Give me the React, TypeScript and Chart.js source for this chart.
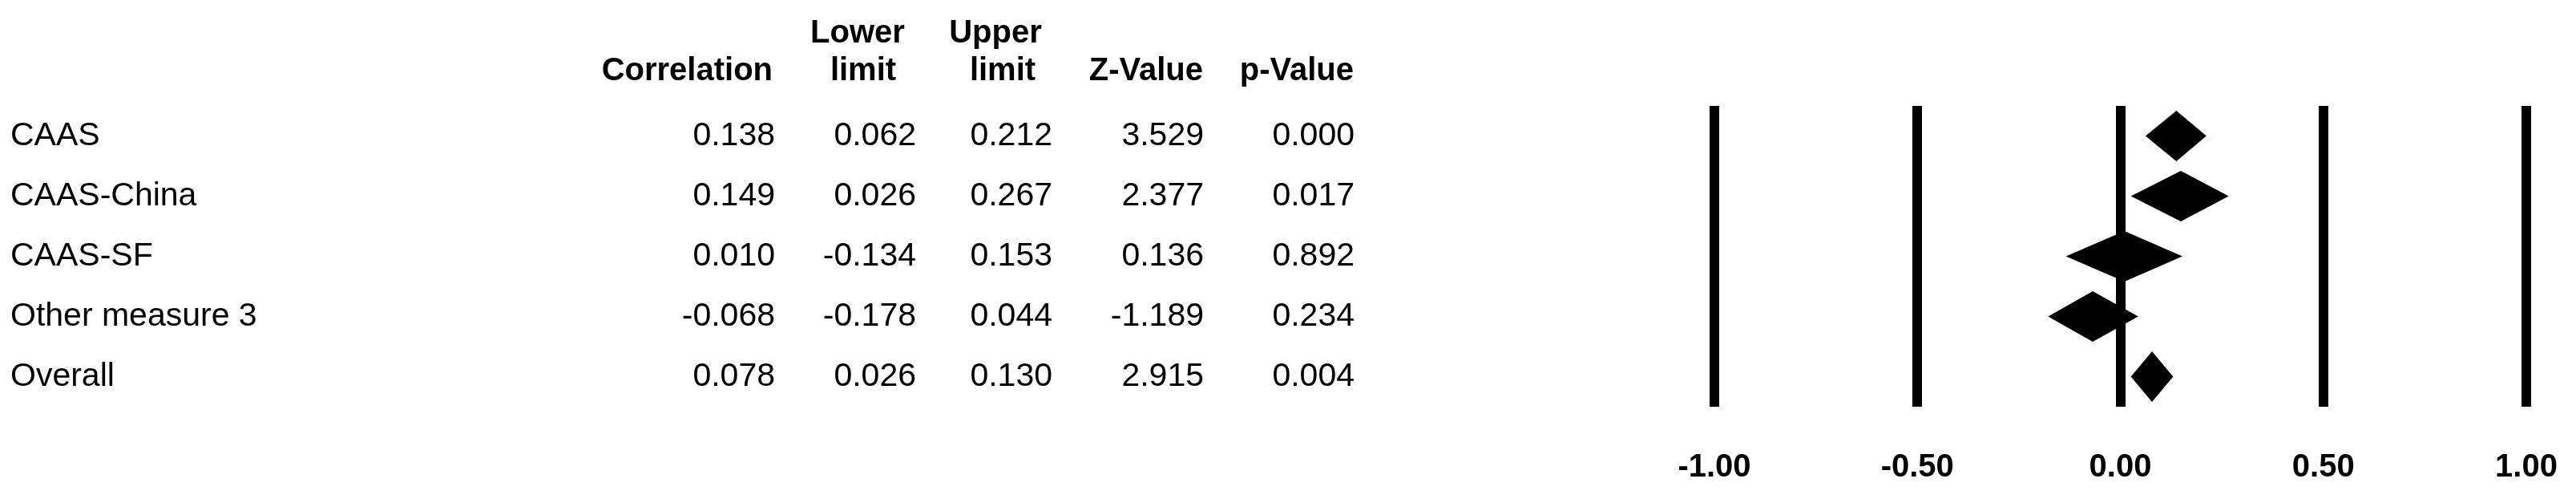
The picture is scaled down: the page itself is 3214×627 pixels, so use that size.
import React, { useEffect, useRef } from "react";
import { Chart, registerables } from "chart.js";

Chart.register(...registerables);

const studies = ["CAAS", "CAAS-China", "CAAS-SF", "Other measure 3", "Overall"];
const correlation = [0.138, 0.149, 0.01, -0.068, 0.078];
const lowerLimit = [0.062, 0.026, -0.134, -0.178, 0.026];
const upperLimit = [0.212, 0.267, 0.153, 0.044, 0.13];
const zValue = [3.529, 2.377, 0.136, -1.189, 2.915];
const pValue = [0.0, 0.017, 0.892, 0.234, 0.004];
const xTicks = [-1, -0.5, 0, 0.5, 1];

const FONT = "'Liberation Sans', Arial, Helvetica, sans-serif";
const W = 3214;
const H = 627;

export default function App() {
  const ref = useRef<HTMLCanvasElement | null>(null);

  useEffect(() => {
    const canvas = ref.current;
    if (!canvas) return;

    const tablePlugin = {
      id: "forestTable",
      afterDraw(chart: any) {
        const ctx = chart.ctx;
        const y = chart.scales.y;
        ctx.save();
        ctx.fillStyle = "#000";
        // headers
        ctx.font = `bold 40px ${FONT}`;
        ctx.textBaseline = "alphabetic";
        ctx.textAlign = "right";
        ctx.fillText("Correlation", 964, 100);
        ctx.fillText("Z-Value", 1501, 100);
        ctx.fillText("p-Value", 1689, 100);
        ctx.textAlign = "center";
        ctx.fillText("Lower", 1070, 53);
        ctx.fillText("limit", 1077, 100);
        ctx.fillText("Upper", 1242, 53);
        ctx.fillText("limit", 1251, 100);

        // rows
        ctx.font = `41px ${FONT}`;
        ctx.textBaseline = "middle";
        const cols = [
          { vals: correlation, x: 967 },
          { vals: lowerLimit, x: 1143 },
          { vals: upperLimit, x: 1313 },
          { vals: zValue, x: 1502 },
          { vals: pValue, x: 1690 },
        ];
        studies.forEach((name, i) => {
          const py = y.getPixelForValue(i);
          ctx.textAlign = "left";
          ctx.fillText(name, 13, py);
          ctx.textAlign = "right";
          cols.forEach((c) => ctx.fillText(c.vals[i].toFixed(3), c.x, py));
        });
        ctx.restore();
      },
    };

    const diamondPlugin = {
      id: "diamonds",
      afterDatasetsDraw(chart: any) {
        const ctx = chart.ctx;
        const xs = chart.scales.x;
        const ys = chart.scales.y;
        const half = 0.42;
        ctx.save();
        ctx.fillStyle = "#000";
        studies.forEach((_, i) => {
          const yc = ys.getPixelForValue(i);
          const yt = ys.getPixelForValue(i - half);
          const yb = ys.getPixelForValue(i + half);
          const xl = xs.getPixelForValue(lowerLimit[i]);
          const xm = xs.getPixelForValue(correlation[i]);
          const xr = xs.getPixelForValue(upperLimit[i]);
          ctx.beginPath();
          ctx.moveTo(xl, yc);
          ctx.lineTo(xm, yt);
          ctx.lineTo(xr, yc);
          ctx.lineTo(xm, yb);
          ctx.closePath();
          ctx.fill();
        });
        ctx.restore();
      },
    };

    const chart = new Chart(canvas, {
      type: "scatter",
      data: {
        datasets: [
          {
            label: "Correlation",
            data: correlation.map((c, i) => ({ x: c, y: i })),
            pointRadius: 0,
            showLine: false,
          },
        ],
      },
      options: {
        animation: false,
        responsive: false,
        maintainAspectRatio: false,
        layout: { padding: { left: 2139, right: 62, top: 132, bottom: 20 } },
        plugins: {
          legend: { display: false },
          tooltip: { enabled: false },
        },
        scales: {
          x: {
            type: "linear",
            min: -1,
            max: 1,
            afterBuildTicks: (axis: any) => {
              axis.ticks = xTicks.map((v) => ({ value: v }));
            },
            afterFit: (axis: any) => {
              axis.paddingLeft = 0;
              axis.paddingRight = 0;
              axis.height = 100;
            },
            border: { display: false },
            grid: {
              color: "#000",
              lineWidth: 12,
              drawTicks: false,
            },
            ticks: {
              padding: 52,
              color: "#000",
              font: { family: FONT, size: 40, weight: "bold" },
              callback: (v: any) => Number(v).toFixed(2),
              maxRotation: 0,
              autoSkip: false,
            },
          },
          y: {
            type: "linear",
            min: -0.5,
            max: 4.5,
            reverse: true,
            display: false,
          },
        },
      },
      plugins: [diamondPlugin, tablePlugin],
    });

    return () => chart.destroy();
  }, []);

  return (
    <div style={{ position: "absolute", left: 0, top: 0, width: W, height: H, background: "#fff" }}>
      <canvas ref={ref} width={W} height={H} style={{ width: W, height: H, display: "block" }} />
    </div>
  );
}
